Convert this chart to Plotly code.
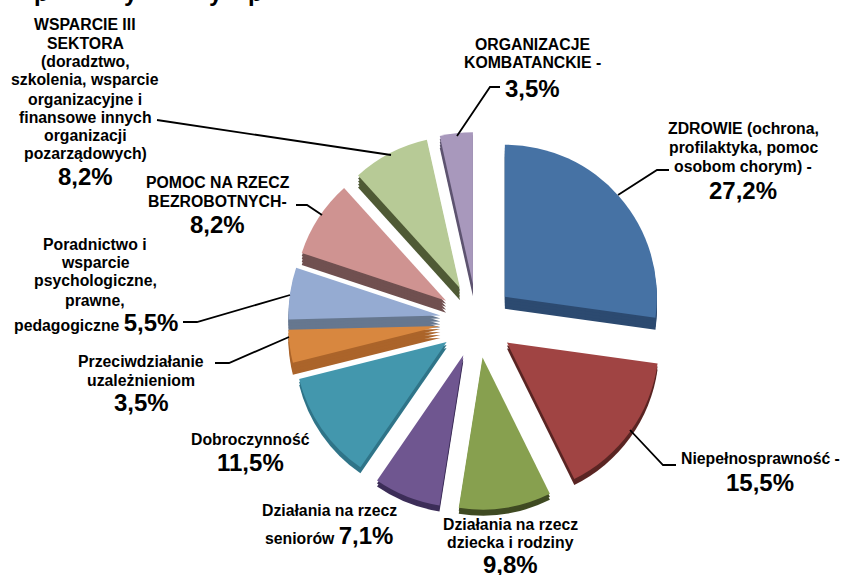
import plotly.graph_objects as go

W, H = 841, 575
values = [27.2, 15.5, 9.8, 7.1, 11.5, 3.5, 5.5, 8.2, 8.2, 3.5]
categories = ["ZDROWIE", "Niepełnosprawność", "Działania na rzecz dziecka i rodziny",
              "Działania na rzecz seniorów", "Dobroczynność", "Przeciwdziałanie uzależnieniom",
              "Poradnictwo i wsparcie", "POMOC NA RZECZ BEZROBOTNYCH", "WSPARCIE III SEKTORA",
              "ORGANIZACJE KOMBATANCKIE"]
top_colors = ["#4672A4", "#A04443", "#87A04F", "#6F5690", "#4397AD",
              "#D8873F", "#95ABD2", "#CF9391", "#B7CA96", "#A898BC"]
wall_colors = ["#2C4A70", "#5A2523", "#3F4A22", "#3C2D58", "#2F7488",
               "#AB642A", "#66778F", "#705050", "#4F5A35", "#5E5470"]
wall_layers = [4, 2, 2, 2, 2, 4, 4, 4, 4, 4]
title_fragments = [("p", 41), ("y", 131), ("y", 216), ("p", 255)]

pct = [f"{v:.1f}".replace(".", ",") + "%" for v in values]
SMALL, BIG = 15.8, 24


def px(x):
    return x / W


def py(y):
    return 1 - y / H


CX, CY, HALF, PULL, STEP = 477, 321, 189, 0.243, 3


def pie(offset, colors):
    return go.Pie(labels=categories, values=values, sort=False, direction="clockwise",
                  rotation=0, pull=[PULL] * len(values), textinfo="none", showlegend=False,
                  marker=dict(colors=colors, line=dict(width=0)),
                  domain=dict(x=[px(CX - HALF), px(CX + HALF)],
                              y=[py(CY + offset + HALF), py(CY + offset - HALF)]))


fig = go.Figure()
for k in range(4, 0, -1):
    layer = [c if n >= k else "rgba(0,0,0,0)" for c, n in zip(wall_colors, wall_layers)]
    fig.add_trace(pie(k * STEP, layer))
fig.add_trace(pie(0, top_colors))

label_lines = [
    ("WSPARCIE III", 85, 24, SMALL), ("SEKTORA", 85, 43, SMALL), ("(doradztwo,", 85, 61, SMALL),
    ("szkolenia, wsparcie", 85, 80, SMALL), ("organizacyjne i", 85, 99, SMALL),
    ("finansowe innych", 85, 117, SMALL), ("organizacji", 85, 135, SMALL),
    ("pozarządowych)", 85, 153, SMALL), (pct[8], 85, 176, BIG),
    ("ORGANIZACJE", 532, 45, SMALL), ("KOMBATANCKIE -", 532, 63, SMALL), (pct[9], 532, 88, BIG),
    ("ZDROWIE (ochrona,", 743, 129, SMALL), ("profilaktyka, pomoc", 743, 147, SMALL),
    ("osobom chorym) -", 743, 166, SMALL), (pct[0], 743, 190, BIG),
    ("POMOC NA RZECZ", 218, 182, SMALL), ("BEZROBOTNYCH-", 218, 201, SMALL), (pct[7], 218, 224, BIG),
    ("Poradnictwo i", 95, 244, SMALL), ("wsparcie", 95, 262, SMALL),
    ("psychologiczne,", 95, 281, SMALL), ("prawne,", 95, 300, SMALL),
    (f"pedagogiczne <span style='font-size:{BIG}px'>{pct[6]}</span>", 96, 322, SMALL),
    ("Przeciwdziałanie", 141, 361, SMALL), ("uzależnieniom", 141, 380, SMALL), (pct[5], 141, 402, BIG),
    ("Dobroczynność", 250, 439, SMALL), (pct[4], 250, 462, BIG),
    ("Działania na rzecz", 329, 510, SMALL),
    (f"seniorów <span style='font-size:{BIG}px'>{pct[3]}</span>", 329, 535, SMALL),
    ("Działania na rzecz", 510, 524, SMALL), ("dziecka i rodziny", 510, 542, SMALL), (pct[2], 510, 564, BIG),
    ("Niepełnosprawność -", 760, 458, SMALL), (pct[1], 760, 482, BIG),
]
label_lines += [(t, x, -8, 24) for t, x in title_fragments]

annotations = [dict(text=f"<b>{t}</b>", x=px(x), y=py(y), xref="paper", yref="paper",
                    showarrow=False, xanchor="center", yanchor="middle", align="center",
                    font=dict(family="Liberation Sans", size=s, color="#000000"))
               for t, x, y, s in label_lines]

leaders = [
    [(618, 195), (657, 170), (669, 170)],
    [(157, 120), (391, 155)],
    [(457, 136), (490, 87), (500, 87)],
    [(322, 215), (307, 205), (296, 205)],
    [(290, 295), (197, 322), (183, 322)],
    [(289, 337), (229, 363), (215, 363)],
    [(630, 430), (663, 465), (676, 465)],
]
shapes = [dict(type="path", xref="paper", yref="paper", line=dict(color="#000000", width=1.8),
               path="M " + " L ".join(f"{px(x):.5f},{py(y):.5f}" for x, y in pts))
          for pts in leaders]

fig.update_layout(width=W, height=H, margin=dict(l=0, r=0, t=0, b=0),
                  paper_bgcolor="#FFFFFF", plot_bgcolor="#FFFFFF",
                  annotations=annotations, shapes=shapes)
fig.write_html("out.html", config=dict(displayModeBar=False),
               post_script="document.body.style.margin='0';document.body.style.overflow='hidden';")
